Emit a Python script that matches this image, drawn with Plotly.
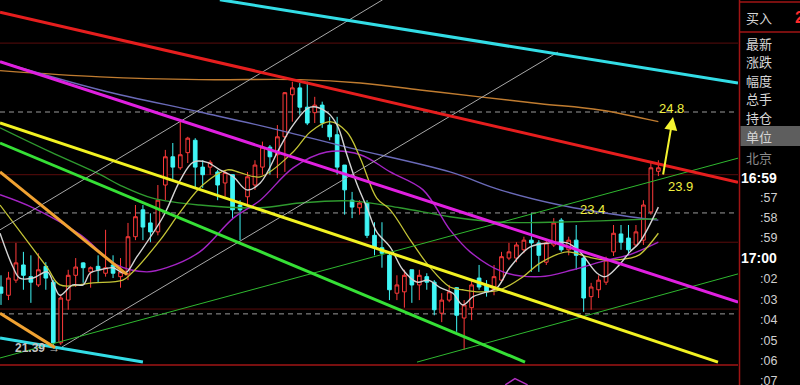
import plotly.graph_objects as go

# ---------------- data ----------------
candle_idx = list(range(89))
open_ = [22.26, 22.14, 22.36, 22.58, 22.41, 22.29, 22.56, 22.33, 21.45, 22.07,
         22.43, 22.61, 22.48, 22.56, 22.46, 22.58, 22.41, 22.45, 22.99, 23.38,
         23.19, 23.06, 23.74, 24.15, 23.99, 24.21, 24.39, 24.00, 24.00, 23.93,
         23.77, 23.89, 23.45, 23.57, 23.74, 24.00, 24.29, 24.18, 24.44, 25.05,
         25.15, 24.87, 24.79, 24.90, 24.61, 24.47, 24.03, 23.52, 23.41, 23.48,
         23.01, 22.83, 22.72, 22.17, 22.19, 22.51, 22.29, 22.41, 22.33, 21.88,
         22.07, 22.25, 21.81, 21.96, 22.39, 22.29, 22.22, 22.36, 22.68, 22.68,
         22.80, 22.94, 22.90, 22.62, 22.87, 23.23, 22.80, 22.94, 22.68, 22.12,
         22.22, 22.33, 22.77, 23.03, 22.97, 22.87, 22.94, 23.35, 23.94]
high_ = [22.43, 22.48, 22.90, 22.77, 22.72, 22.75, 22.62, 22.36, 22.14, 22.51,
         22.68, 22.62, 22.56, 22.72, 23.09, 22.72, 22.68, 23.19, 23.45, 23.45,
         23.33, 23.74, 24.25, 24.35, 24.68, 24.44, 24.42, 24.10, 24.10, 23.96,
         23.96, 23.89, 23.52, 23.93, 24.10, 24.37, 24.32, 24.61, 25.09, 25.24,
         25.22, 25.24, 25.02, 24.95, 24.73, 24.73, 24.03, 23.64, 23.52, 23.52,
         23.20, 23.20, 22.75, 22.43, 22.51, 22.51, 22.51, 22.46, 22.36, 22.17,
         22.29, 22.26, 22.07, 22.36, 22.58, 22.36, 22.58, 22.77, 22.90, 22.91,
         22.99, 23.33, 22.94, 22.94, 23.26, 23.26, 22.99, 23.16, 22.72, 22.32,
         22.43, 22.70, 23.16, 23.16, 23.16, 23.16, 23.52, 24.07, 24.10]
low_ = [22.00, 22.07, 22.32, 22.22, 22.03, 22.26, 22.22, 21.39, 21.42, 21.93,
        22.26, 22.32, 22.25, 22.32, 22.41, 22.39, 22.25, 22.36, 22.94, 22.94,
        22.91, 23.01, 23.52, 23.81, 23.96, 24.06, 23.71, 23.70, 23.89, 23.52,
        23.57, 23.26, 22.94, 23.45, 23.67, 23.89, 23.89, 23.84, 23.93, 24.66,
        24.76, 24.61, 24.64, 24.57, 24.39, 23.89, 23.31, 23.26, 23.31, 22.97,
        22.72, 22.54, 22.07, 22.07, 21.96, 22.03, 22.07, 22.22, 21.85, 21.75,
        22.04, 21.61, 21.35, 21.78, 22.22, 22.12, 22.14, 22.32, 22.65, 22.62,
        22.75, 22.48, 22.48, 22.58, 22.84, 22.77, 22.72, 22.51, 21.90, 21.93,
        22.10, 22.29, 22.71, 22.80, 22.72, 22.84, 22.87, 23.31, 23.87]
close_ = [22.17, 22.39, 22.61, 22.43, 22.33, 22.51, 22.39, 21.45, 22.10, 22.43,
          22.55, 22.54, 22.54, 22.51, 22.54, 22.46, 22.48, 22.99, 23.28, 23.13,
          23.06, 23.52, 24.15, 24.00, 24.18, 24.42, 24.00, 23.89, 24.07, 23.74,
          23.92, 23.38, 23.38, 23.86, 24.03, 24.29, 24.15, 24.44, 25.08, 25.15,
          24.87, 24.64, 24.90, 24.64, 24.44, 24.00, 23.67, 23.42, 23.48, 23.01,
          22.83, 22.75, 22.22, 22.29, 22.43, 22.29, 22.43, 22.33, 21.93, 22.07,
          22.19, 21.85, 22.00, 22.29, 22.26, 22.19, 22.41, 22.70, 22.77, 22.87,
          22.94, 22.90, 22.72, 22.90, 23.19, 22.80, 22.94, 22.72, 22.10, 22.26,
          22.36, 22.65, 23.04, 22.91, 22.80, 23.06, 23.45, 23.99, 23.99]

# moving averages (sampled along the bar index)
ma_white_x = [-0.13, 1.6, 2.5, 4.3, 6.2, 7.2, 7.9, 9.6, 11.0, 11.9, 13.3, 15.0, 16.6, 18.2,
              21.7, 24.0, 25.7, 27.6, 29.3, 31.1, 32.9, 34.7, 37.3, 39.1, 41.4, 43.6, 45.0,
              46.3, 47.7, 49.0, 50.3, 52.1, 53.8, 55.7, 57.2, 58.8, 60.5, 61.8, 63.2, 64.5,
              66.4, 68.1, 70.8, 73.5, 75.8, 77.5, 79.8, 80.9, 82.5, 84.2, 85.5, 88.0]
ma_white_y = [23.04, 22.55, 22.39, 22.39, 22.48, 22.26, 22.14, 22.29, 22.29, 22.46, 22.51, 22.54,
              22.46, 22.70, 23.28, 23.81, 24.07, 24.07, 23.96, 23.86, 23.67, 23.77, 24.28, 24.61,
              24.87, 24.80, 24.61, 24.18, 23.74, 23.41, 23.06, 22.84, 22.51, 22.33, 22.36, 22.25,
              22.17, 22.00, 22.12, 22.17, 22.25, 22.54, 22.84, 22.90, 22.90, 22.77, 22.46, 22.41,
              22.55, 22.77, 22.91, 23.42]
ma_yellow_x = [-0.13, 6.2, 7.9, 12.3, 16.3, 17.3, 21.3, 24.0, 27.0, 30.3, 32.0, 34.7, 39.1, 41.4,
               44.0, 46.3, 48.1, 50.3, 52.1, 54.8, 57.4, 60.1, 61.8, 64.1, 66.8, 69.9, 72.2,
               75.8, 78.4, 81.1, 84.2, 85.5, 88.0]
ma_yellow_y = [23.45, 22.54, 22.29, 22.32, 22.36, 22.44, 22.94, 23.35, 23.74, 23.96, 23.92, 23.86,
               24.22, 24.51, 24.66, 24.51, 24.13, 23.55, 23.38, 22.94, 22.55, 22.26, 22.22, 22.19,
               22.22, 22.41, 22.61, 22.77, 22.70, 22.65, 22.68, 22.73, 23.04]
ma_purple_x = [-0.13, 4.3, 10.6, 15.5, 19.5, 22.2, 26.6, 31.1, 34.7, 39.1, 43.6, 48.1, 52.1,
               56.5, 60.1, 62.8, 67.2, 72.2, 76.6, 81.1, 84.2, 88.0]
ma_purple_y = [23.60, 23.41, 23.02, 22.58, 22.48, 22.54, 22.77, 23.26, 23.52, 23.99, 24.22, 24.18,
               23.93, 23.67, 23.09, 22.77, 22.48, 22.41, 22.51, 22.65, 22.73, 22.91]
ma_green_x = [-0.13, 6.6, 13.3, 15.9, 20.3, 26.6, 34.7, 40.0, 46.7, 53.4, 60.1, 66.8, 73.5, 80.2, 87.8]
ma_green_y = [24.57, 24.22, 23.89, 23.74, 23.55, 23.45, 23.41, 23.48, 23.51, 23.41, 23.28, 23.20,
              23.20, 23.22, 23.25]
ma_slate_x = [-0.13, 13.3, 26.6, 36.0, 46.7, 60.1, 66.8, 74.8, 84.2, 88.0]
ma_slate_y = [25.53, 25.12, 24.80, 24.57, 24.28, 23.93, 23.67, 23.45, 23.28, 23.23]
ma_orange_x = [-0.13, 13.3, 26.6, 40.0, 48.1, 56.1, 64.1, 72.2, 80.2, 88.0]
ma_orange_y = [25.40, 25.31, 25.27, 25.27, 25.22, 25.12, 25.02, 24.92, 24.83, 24.66]

# drawn trend lines (end points: bar index, price)
cyan_top_x, cyan_top_y = [29.3, 98.66], [26.43, 25.22]
cyan_low_x, cyan_low_y = [-0.13, 19.0], [21.52, 21.17]
red_x, red_y = [-0.13, 98.66], [26.25, 23.78]
magenta_x, magenta_y = [-0.13, 98.66], [25.53, 22.04]
yellow_x, yellow_y = [-0.13, 95.98], [24.64, 21.17]
lime_x, lime_y = [-0.13, 70.15], [24.35, 21.17]
orange1_x, orange1_y = [-0.13, 16.87], [23.93, 22.44]
orange2_x, orange2_y = [-0.13, 7.23], [21.88, 21.38]
gray1_x, gray1_y = [-0.13, 51.1], [23.09, 26.43]
gray2_x, gray2_y = [8.17, 74.56], [21.39, 25.67]
green1_x, green1_y = [-0.13, 98.66], [21.23, 24.13]
green2_x, green2_y = [55.69, 98.66], [21.17, 22.45]
purple_bit_x, purple_bit_y = [67.5, 68.8, 70.5], [20.84, 20.93, 20.84]

# horizontal reference levels
dark_grid = [25.80, 23.89, 22.91, 21.94]
dashed_levels = [24.80, 23.335, 21.87]
bottom_level = 21.128

panel_labels = ["最新", "涨跌", "幅度", "总手", "持仓", "单位"]
time_labels = ["16:59", ":57", ":58", ":59", "17:00", ":02", ":03", ":04", ":05", ":06", ":07"]

# ---------------- figure ----------------
W, H = 800, 385
PLOT_R = 738
XR = [-1 / 7.47, (PLOT_R - 1) / 7.47]
YR = [20.8377, 26.4256]

fig = go.Figure()

fig.add_trace(go.Candlestick(
    x=candle_idx, open=open_, high=high_, low=low_, close=close_,
    increasing=dict(line=dict(color="#ff3a3a", width=1), fillcolor="#000000"),
    decreasing=dict(line=dict(color="#3ff6f6", width=1), fillcolor="#3ff6f6"),
    whiskerwidth=0, showlegend=False, hoverinfo="skip"))

def add_line(x, y, color, width, shape="linear"):
    fig.add_trace(go.Scatter(x=x, y=y, mode="lines", showlegend=False, hoverinfo="skip",
                             line=dict(color=color, width=width, shape=shape)))

add_line(ma_orange_x, ma_orange_y, "#c07c30", 1.4, "spline")
add_line(ma_slate_x, ma_slate_y, "#6a6ab8", 1.4, "spline")
add_line(ma_green_x, ma_green_y, "#2f9a2f", 1.4, "spline")
add_line(ma_purple_x, ma_purple_y, "#a424c4", 1.4, "spline")
add_line(ma_yellow_x, ma_yellow_y, "#c4c436", 1.3, "spline")
add_line(ma_white_x, ma_white_y, "#d4d4d4", 1.4, "spline")

add_line(gray1_x, gray1_y, "#a8a8a8", 1)
add_line(gray2_x, gray2_y, "#a8a8a8", 1)
add_line(green1_x, green1_y, "#2fb82f", 1)
add_line(green2_x, green2_y, "#2fb82f", 1)
add_line(cyan_top_x, cyan_top_y, "#33dde6", 3)
add_line(cyan_low_x, cyan_low_y, "#33dde6", 3)
add_line(red_x, red_y, "#e61e1e", 3)
add_line(magenta_x, magenta_y, "#e020e0", 3)
add_line(yellow_x, yellow_y, "#f2f222", 3)
add_line(lime_x, lime_y, "#36e036", 3)
add_line(orange1_x, orange1_y, "#f0a232", 3)
add_line(orange2_x, orange2_y, "#f0a232", 3)
add_line(purple_bit_x, purple_bit_y, "#b030c0", 1.5)

shapes = []
pr = PLOT_R / W
for lv in dark_grid:
    shapes.append(dict(type="line", xref="paper", yref="y", x0=0, x1=pr, y0=lv, y1=lv,
                       line=dict(color="#5a0c0c", width=1), layer="below"))
for lv in dashed_levels:
    shapes.append(dict(type="line", xref="paper", yref="y", x0=0, x1=pr, y0=lv, y1=lv,
                       line=dict(color="#9a9a9a", width=1, dash="5px,4px"), layer="below"))
shapes.append(dict(type="line", xref="paper", yref="y", x0=0, x1=pr, y0=bottom_level, y1=bottom_level,
                   line=dict(color="#a01414", width=1.5)))

def px(x):
    return x / W

def py(y):
    return 1 - y / H

# right panel
shapes.append(dict(type="line", xref="paper", yref="paper", x0=px(739.5), x1=px(739.5), y0=0, y1=1,
                   line=dict(color="#a01414", width=1.5)))
for yy in [2, 32]:
    shapes.append(dict(type="line", xref="paper", yref="paper", x0=px(739.5), x1=1, y0=py(yy), y1=py(yy),
                       line=dict(color="#a01414", width=1.5)))
shapes.append(dict(type="rect", xref="paper", yref="paper", x0=px(740.5), x1=1, y0=py(146), y1=py(126),
                   fillcolor="#5e5e5e", line=dict(width=0)))

annotations = []
def txt(x, y, s, color, size, anchor="left", bold=False, family="Noto Sans CJK SC"):
    annotations.append(dict(xref="paper", yref="paper", x=px(x), y=py(y), text=f"<b>{s}</b>" if bold else s,
                            showarrow=False, xanchor=anchor, yanchor="middle",
                            font=dict(color=color, size=size, family=family)))

txt(744, 17, "买入", "#d6d6d6", 13)
txt(793, 17, "2", "#ff2a2a", 16, bold=True, family="Liberation Sans")
for i, lab in enumerate(panel_labels):
    txt(744, 43 + i * 18.6, lab, "#d6d6d6", 13)
txt(744, 157, "北京", "#8c8c8c", 13)
time_y = [178, 198, 218, 238, 258, 279, 300, 320, 341, 361, 381]
for lab, yy in zip(time_labels, time_y):
    if lab.startswith(":"):
        txt(779, yy, lab, "#d0d0d0", 12.5, anchor="right", family="Liberation Sans")
    else:
        txt(779, yy, lab, "#ffffff", 14, anchor="right", bold=True, family="Liberation Sans")

# chart annotations
def dtxt(x, y, s, color, size=13):
    annotations.append(dict(xref="x", yref="y", x=x, y=y, text=s, showarrow=False,
                            xanchor="center", yanchor="middle",
                            font=dict(color=color, size=size, family="Liberation Sans")))

dtxt(89.8, 24.844, "24.8", "#f0f040")
dtxt(90.9, 23.726, "23.9", "#f0f040")
dtxt(79.2, 23.378, "23.4", "#f0f040")
annotations.append(dict(xref="x", yref="y", x=4.85, y=21.37, text="<b>21.39 →</b>", showarrow=False,
                        xanchor="center", yanchor="middle",
                        font=dict(color="#c4c4c4", size=12, family="Liberation Sans")))
annotations.append(dict(xref="x", yref="y", x=89.96, y=24.727, ax=88.6, ay=23.871,
                        axref="x", ayref="y", text="", showarrow=True,
                        arrowhead=2, arrowsize=1.3, arrowwidth=2, arrowcolor="#f4f430"))

fig.update_layout(
    width=W, height=H, margin=dict(l=0, r=0, t=0, b=0),
    paper_bgcolor="#000000", plot_bgcolor="#000000",
    boxgap=0.3,
    xaxis=dict(domain=[0, pr], range=XR, visible=False, showgrid=False, zeroline=False,
               rangeslider=dict(visible=False), fixedrange=True),
    yaxis=dict(range=YR, visible=False, showgrid=False, zeroline=False, fixedrange=True),
    shapes=shapes, annotations=annotations, showlegend=False,
)

fig.write_html("out.html")
